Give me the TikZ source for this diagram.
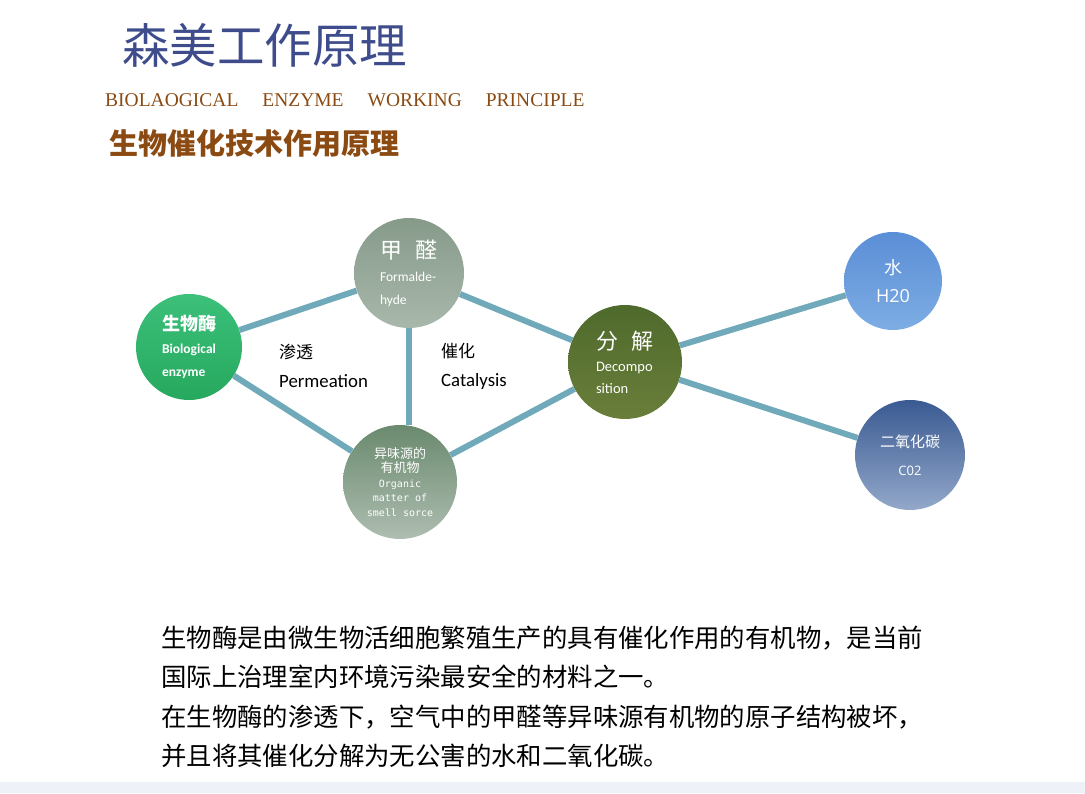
\documentclass[tikz,border=0pt]{standalone}
\usepackage{fontspec}
\setmainfont{Carlito}
\newfontfamily\cjk{Noto Sans CJK SC}
\newfontfamily\serifen{Liberation Serif}
\newfontfamily\monoen{DejaVu Sans Mono}
\newfontfamily\roundsans{Open Sans}
\usetikzlibrary{positioning}
\definecolor{titleblue}{HTML}{3E4C8C}
\definecolor{titlebrown}{HTML}{8A4A12}
\definecolor{linkteal}{HTML}{70AABA}
\definecolor{enzymetop}{HTML}{3CC07A}
\definecolor{enzymebot}{HTML}{26A85E}
\definecolor{formtop}{HTML}{869A8A}
\definecolor{formbot}{HTML}{A8B8AB}
\definecolor{organtop}{HTML}{6A8A6E}
\definecolor{organbot}{HTML}{AEBDB1}
\definecolor{decotop}{HTML}{4E6A2C}
\definecolor{decobot}{HTML}{6A7E3A}
\definecolor{watertop}{HTML}{5A8ED6}
\definecolor{waterbot}{HTML}{7EADE4}
\definecolor{cotop}{HTML}{3A5A92}
\definecolor{cobot}{HTML}{93A8CA}
\definecolor{footstrip}{HTML}{EEF1F7}
\tikzset{
  bubble/.style={circle, inner sep=0pt, text=white, align=left},
  link/.style={line width=6pt, draw=linkteal},
}

\begin{document}
\begin{tikzpicture}[x=1pt,y=1pt]
\useasboundingbox (0,0) rectangle (1085,793);
\fill[footstrip] (0,0) rectangle (1085,11);

% headings
\node[anchor=west, inner sep=0pt, text=titleblue, font=\cjk\fontsize{47.5}{50}\selectfont] (title) at (122,748) {森美工作原理};
\node[anchor=west, inner sep=0pt, text=titlebrown, font=\serifen\fontsize{19.5}{22}\selectfont] (subtitle) at (105,693) {BIOLAOGICAL\hspace{24pt}ENZYME\hspace{24pt}WORKING\hspace{24pt}PRINCIPLE};
\node[anchor=west, inner sep=0pt, text=titlebrown, font=\cjk\bfseries\fontsize{29}{32}\selectfont] (heading) at (109,650) {生物催化技术作用原理};

% bubbles
\node[bubble, minimum size=106pt, top color=enzymetop, bottom color=enzymebot, font=\bfseries\fontsize{13.5}{23}\selectfont] (enzyme) at (189,446)
  {{\cjk\fontsize{18}{24}\selectfont 生物酶}\\ Biological\\ enzyme};
\node[bubble, minimum size=110pt, top color=formtop, bottom color=formbot, font=\fontsize{13.5}{23}\selectfont] (formald) at (409,520)
  {{\cjk\fontsize{22}{26}\selectfont 甲\hspace{14pt}醛}\\ Formalde-\\ hyde};
\node[bubble, minimum size=114pt, top color=organtop, bottom color=organbot, align=center, font=\monoen\fontsize{10}{14.5}\selectfont] (organic) at (400,311)
  {{\cjk\fontsize{13}{14}\selectfont 异味源的}\\ {\cjk\fontsize{13}{14}\selectfont 有机物}\\ Organic\\ matter of\\ smell sorce};
\node[bubble, minimum size=114pt, top color=decotop, bottom color=decobot, font=\fontsize{14.5}{22}\selectfont] (decomp) at (625,431)
  {{\cjk\fontsize{22}{26}\selectfont 分\hspace{14pt}解}\\ Decompo\\ sition};
\node[bubble, minimum size=98pt, top color=watertop, bottom color=waterbot, align=center, font=\roundsans\fontsize{18}{28}\selectfont] (water) at (893,512)
  {{\cjk 水}\\ H20};
\node[bubble, minimum size=110pt, top color=cotop, bottom color=cobot, align=center, font=\roundsans\fontsize{13}{28}\selectfont] (co2) at (910,338)
  {{\cjk\fontsize{15}{16}\selectfont 二氧化碳}\\ C02};

% connectors
\draw[link] (enzyme) -- (formald);
\draw[link] (enzyme) -- (organic);
\draw[link] (formald.south) -- (formald.south |- organic.north);
\draw[link] (formald) -- (decomp);
\draw[link] (organic) -- (decomp);
\draw[link] (decomp) -- (water);
\draw[link] (decomp) -- (co2);

% process labels
\node[anchor=west, align=left, inner sep=0pt, font=\fontsize{18.8}{29}\selectfont] (permeation) at (279,427) {{\cjk\fontsize{17}{29}\selectfont 渗透}\\ Permeation};
\node[anchor=west, align=left, inner sep=0pt, font=\fontsize{18.8}{29}\selectfont] (catalysis) at (441,427) {{\cjk\fontsize{17}{29}\selectfont 催化}\\ Catalysis};

% description
\node[anchor=north west, align=left, inner sep=0pt, font=\cjk\fontsize{25.4}{39.3}\selectfont] (desc) at (161,167)
  {生物酶是由微生物活细胞繁殖生产的具有催化作用的有机物，是当前\\
   国际上治理室内环境污染最安全的材料之一。\\
   在生物酶的渗透下，空气中的甲醛等异味源有机物的原子结构被坏，\\
   并且将其催化分解为无公害的水和二氧化碳。};
\end{tikzpicture}
\end{document}
